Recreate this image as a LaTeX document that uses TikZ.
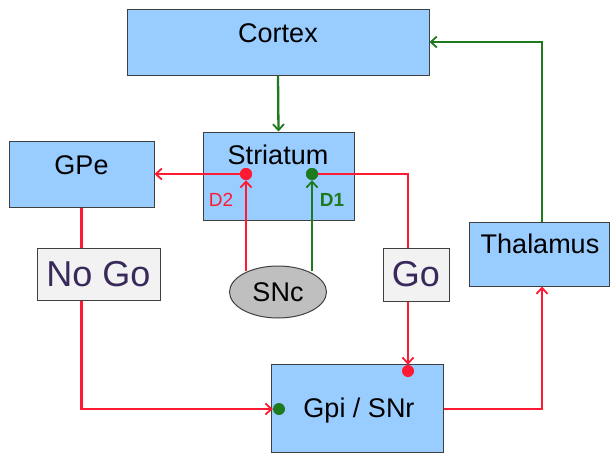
\documentclass[tikz,border=0pt]{standalone}
\usepackage{fontspec}
\setmainfont{Liberation Sans}
\usetikzlibrary{arrows.meta,shapes.geometric,calc}
\definecolor{boxblue}{HTML}{99CCFF}
\definecolor{boxline}{HTML}{3F3F3F}
\definecolor{gatefill}{HTML}{F2F2F2}
\definecolor{sncfill}{HTML}{BFBFBF}
\definecolor{inhib}{HTML}{FF1A33}
\definecolor{excit}{HTML}{1E7A1E}
\definecolor{gatetext}{HTML}{3A2A5C}
\tikzset{
  region/.style={draw=boxline, fill=boxblue, line width=1pt, inner sep=0pt},
  gate/.style={draw=boxline, fill=gatefill, line width=1pt, inner sep=0pt,
    text=gatetext, font=\fontsize{36}{40}\selectfont},
  label text/.style={font=\fontsize{27}{30}\selectfont, inner sep=0pt},
  tip/.style={-{Straight Barb[length=6pt,width=11pt,line width=1.8pt]}},
  redpath/.style={draw=inhib, line width=2.3pt},
  greenpath/.style={draw=excit, line width=2.3pt},
  reddot/.style={circle, fill=inhib, minimum size=12pt, inner sep=0pt},
  greendot/.style={circle, fill=excit, minimum size=12pt, inner sep=0pt}
}
\begin{document}
\begin{tikzpicture}[x=1pt,y=-1pt]
\useasboundingbox (0,0) rectangle (611,455);

% regions
\node[region, minimum width=302pt, minimum height=66pt] (cortex) at (278,42) {};
\node[label text] at (278,33) {Cortex};
\node[region, minimum width=151pt, minimum height=88pt] (str) at (278.5,176) {};
\node[label text] at (278,155) {Striatum};
\node[region, minimum width=145pt, minimum height=66pt] (gpe) at (81.5,174) {};
\node[label text] at (81.5,165) {GPe};
\node[region, minimum width=140pt, minimum height=64pt] (thal) at (539,254) {};
\node[label text] at (540,244) {Thalamus};
\node[region, minimum width=172pt, minimum height=88pt] (gpi) at (357,408) {};
\node[label text] at (359,411) {Gpi / SNr};

% gates
\node[gate, minimum width=123pt, minimum height=52pt] (nogo) at (98.5,274) {No Go};
\node[gate, minimum width=66pt, minimum height=53pt] (go) at (416,274.5) {Go};

% dopamine source
\node[ellipse, draw=boxline, fill=sncfill, line width=1pt,
  minimum width=97pt, minimum height=52pt, inner sep=0pt, label text] (snc) at (278,292) {SNc};

% receptor sites
\node[reddot] (d2) at (246,174) {};
\node[greendot] (d1) at (312,174) {};
\node[reddot] (gpir) at (408,371) {};
\node[greendot] (gpig) at (279,409) {};
\node[text=inhib, font=\fontsize{19}{21}\selectfont, inner sep=0pt] (d2lab) at (221,200) {D2};
\node[text=excit, font=\bfseries\fontsize{19}{21}\selectfont, inner sep=0pt] (d1lab) at (332,200) {D1};

% excitatory (green) pathways
\draw[greenpath, tip] (cortex.south) -- (str.north);
\draw[greenpath, tip] ([xshift=3pt]thal.north) |- (cortex.east);
\draw[greenpath, tip] (d1 |- snc.34) -- (d1.south);

% inhibitory (red) pathways
\draw[redpath, tip] (d2 |- snc.146) -- (d2.south);
\draw[redpath, tip] (d2.west) -- (gpe.east);
\draw[redpath] (d1.east) -| ([xshift=-8pt]go.north);
\draw[redpath, tip] ([xshift=-8pt]go.south) -- (gpir.north);
\draw[redpath] (gpe.south) -- (gpe.south |- nogo.north);
\draw[redpath, tip] (gpe.south |- nogo.south) |- (gpig.west);
\draw[redpath, tip] (gpi.east |- gpig) -| ([xshift=3pt]thal.south);

% redraw the dots above the lines
\node[reddot] at (d2) {};
\node[greendot] at (d1) {};
\end{tikzpicture}
\end{document}
